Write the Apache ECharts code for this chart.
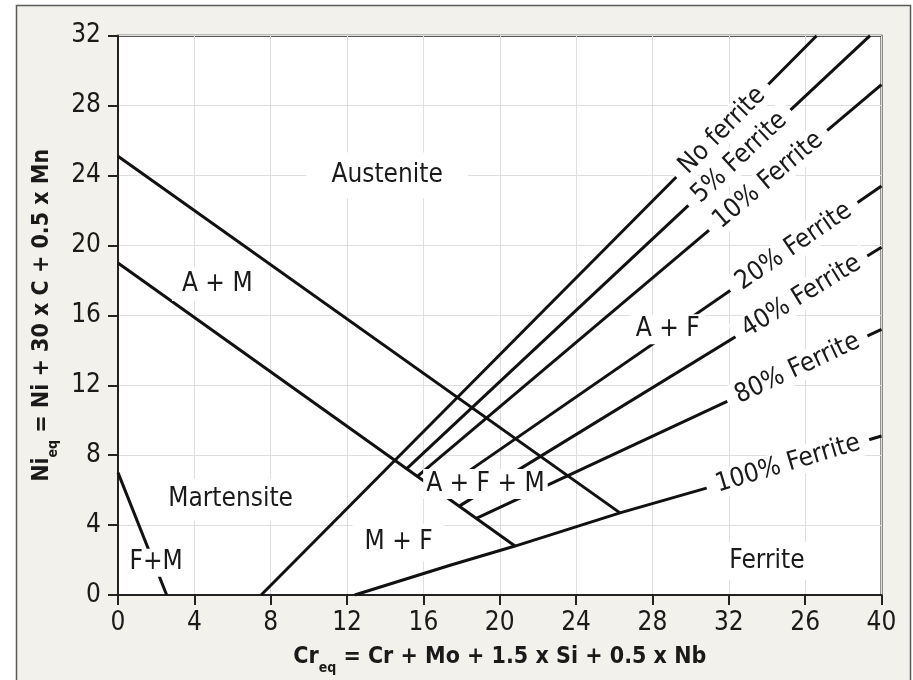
<!DOCTYPE html>
<html>
<head>
<meta charset="utf-8">
<script src="https://cdn.jsdelivr.net/npm/echarts@6/dist/echarts.min.js"></script>
<style>
  html, body { margin: 0; padding: 0; background: #ffffff; }
  #chart { width: 913px; height: 680px; }
</style>
</head>
<body>
<div id="chart"></div>
<script>
// Schaeffler-type constitution diagram: Cr equivalent vs Ni equivalent

const xTickLabels = ['0', '4', '8', '12', '16', '20', '24', '28', '32', '26', '40'];
const yTickLabels = ['0', '4', '8', '12', '16', '20', '24', '28', '32'];

// Phase boundaries, points as [Cr_eq, Ni_eq]
const austeniteMartensiteUpper = [[0, 25.1], [26.3, 4.7]];
const austeniteMartensiteLower = [[0, 19.0], [20.8, 2.8]];
const ferriteMartensite = [[0, 7.0], [2.55, 0]];

// Iso-ferrite lines
const noFerrite = [[7.5, 0], [36.6, 32]];
const ferrite5 = [[15.1, 7.2], [39.4, 32]];
const ferrite10 = [[15.7, 6.8], [40, 29.2]];
const ferrite20 = [[16.8, 5.9], [40, 23.4]];
const ferrite40 = [[17.9, 5.1], [40, 19.9]];
const ferrite80 = [[18.8, 4.4], [40, 15.2]];
const ferrite100 = [[12.4, 0], [17.4, 1.7], [20.8, 2.8], [26.3, 4.7], [31.1, 6.2], [40, 9.1]];

const boundaryLines = [
  austeniteMartensiteUpper, austeniteMartensiteLower, ferriteMartensite,
  noFerrite, ferrite5, ferrite10, ferrite20, ferrite40, ferrite80, ferrite100
];

// Line captions: text, line it sits on, Cr_eq where it is centred
const lineCaptions = [
  ['No ferrite', noFerrite, 31.66],
  ['5% Ferrite', ferrite5, 32.56],
  ['10% Ferrite', ferrite10, 34.06],
  ['20% Ferrite', ferrite20, 35.41],
  ['40% Ferrite', ferrite40, 35.8],
  ['80% Ferrite', ferrite80, 35.59],
  ['100% Ferrite', ferrite100, 35.1]
];

// Phase field names and where they are written
const fieldNames = ['Austenite', 'A + M', 'Martensite', 'F+M', 'M + F', 'A + F + M', 'A + F', 'Ferrite'];
const fieldAnchors = [[14.1, 24.0], [5.2, 17.8], [5.9, 5.45], [2.0, 1.85], [14.7, 3.0], [19.25, 6.35], [28.8, 15.2], [34.0, 1.95]];
const fieldPadding = [[10, 25], [4, 10], [8, 14], [1, 2], [6, 12], [2, 3], [2, 6], [6, 12]];

const NARROW = "'Liberation Sans Narrow', 'DejaVu Sans Condensed', 'Roboto', sans-serif";
const INK = '#1a1a1a';

const chart = echarts.init(document.getElementById('chart'), null, { renderer: 'canvas' });

const nameRich = {
  b: { fontFamily: NARROW, fontSize: 23, fontWeight: 'bold', color: INK, lineHeight: 36 },
  s: { fontFamily: NARROW, fontSize: 14, fontWeight: 'bold', color: INK, lineHeight: 14, verticalAlign: 'bottom' }
};

const baseOption = {
  animation: false,
  backgroundColor: '#ffffff',
  graphic: [{
    type: 'rect',
    z: -100,
    silent: true,
    shape: { x: 16.5, y: 5.5, width: 894, height: 720 },
    style: { fill: '#f3f1ec', stroke: '#5a5a5a', lineWidth: 1.5 }
  }],
  grid: {
    left: 118, right: 31.5, top: 35.7, bottom: 85,
    show: true, backgroundColor: '#ffffff', borderColor: '#222', borderWidth: 2
  },
  xAxis: {
    type: 'value', min: 0, max: 40, interval: 4,
    name: '{b|Cr}{s|eq}{b| = Cr + Mo + 1.5 x Si + 0.5 x Nb}',
    nameLocation: 'middle', nameGap: 44,
    nameTextStyle: { rich: nameRich },
    axisLine: { lineStyle: { color: '#222', width: 2 } },
    axisTick: { show: true, length: 10, lineStyle: { color: '#222', width: 2 } },
    axisLabel: {
      margin: 15, fontFamily: NARROW, fontSize: 26, color: INK,
      formatter: v => xTickLabels[Math.round(v / 4)]
    },
    splitLine: { show: true, lineStyle: { color: '#dedede', width: 1 } }
  },
  yAxis: {
    type: 'value', min: 0, max: 32, interval: 4,
    name: '{b|Ni}{s|eq}{b| = Ni + 30 x C + 0.5 x Mn}',
    nameLocation: 'middle', nameGap: 54, nameRotate: 90,
    nameTextStyle: { rich: nameRich },
    axisLine: { lineStyle: { color: '#222', width: 2 } },
    axisTick: { show: true, length: 10, lineStyle: { color: '#222', width: 2 } },
    axisLabel: {
      margin: 17, fontFamily: NARROW, fontSize: 26, color: INK,
      formatter: v => yTickLabels[Math.round(v / 4)]
    },
    splitLine: { show: true, lineStyle: { color: '#dedede', width: 1 } }
  },
  series: boundaryLines.map(pts => ({
    type: 'line',
    data: pts,
    symbol: 'none',
    silent: true,
    z: 3,
    lineStyle: { color: '#111', width: 3, cap: 'butt' }
  }))
};

chart.setOption(baseOption);

// Ni_eq on a polyline at a given Cr_eq, with the segment it falls on
function pointOn(pts, x) {
  for (let i = 0; i < pts.length - 1; i++) {
    const a = pts[i], b = pts[i + 1];
    if (x >= a[0] && x <= b[0]) {
      const t = (x - a[0]) / (b[0] - a[0]);
      return { y: a[1] + t * (b[1] - a[1]), a, b };
    }
  }
  const a = pts[pts.length - 2], b = pts[pts.length - 1];
  return { y: a[1] + (x - a[0]) * (b[1] - a[1]) / (b[0] - a[0]), a, b };
}

const captionData = lineCaptions.map(([text, pts, x]) => {
  const p = pointOn(pts, x);
  const pa = chart.convertToPixel({ gridIndex: 0 }, p.a);
  const pb = chart.convertToPixel({ gridIndex: 0 }, p.b);
  const angle = Math.atan2(pa[1] - pb[1], pb[0] - pa[0]) * 180 / Math.PI;
  return {
    value: [x, p.y],
    label: { formatter: text, rotate: angle, padding: [1, 10] }
  };
});

const fieldData = fieldNames.map((text, i) => ({
  value: fieldAnchors[i],
  label: { formatter: text, padding: fieldPadding[i] }
}));

chart.setOption({
  series: baseOption.series.concat([{
    type: 'scatter',
    symbolSize: 0,
    silent: true,
    z: 10,
    itemStyle: { opacity: 1 },
    data: captionData.concat(fieldData),
    label: {
      show: true,
      position: 'inside',
      fontFamily: NARROW,
      fontSize: 26,
      color: INK,
      opacity: 1,
      backgroundColor: '#ffffff'
    }
  }])
});
</script>
</body>
</html>
